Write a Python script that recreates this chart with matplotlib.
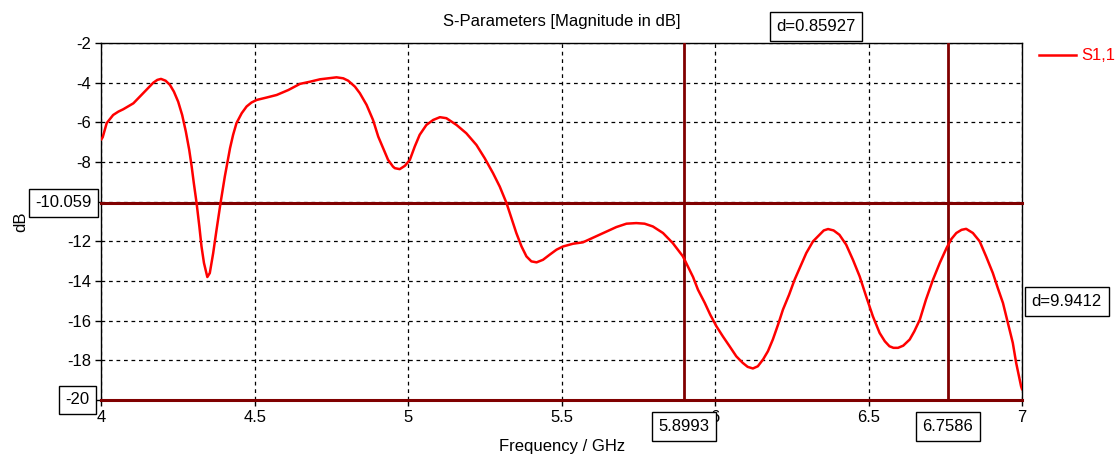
import matplotlib
matplotlib.use("Agg")
import matplotlib.pyplot as plt

# ----------------------------
# Data
# ----------------------------
freq = [4.0, 4.004, 4.017, 4.038, 4.055, 4.071, 4.104, 4.136, 4.152, 4.169,
        4.182, 4.194, 4.209, 4.223, 4.236, 4.25, 4.263, 4.275, 4.286, 4.294,
        4.301, 4.31, 4.319, 4.326, 4.334, 4.345, 4.353, 4.364, 4.375, 4.388,
        4.402, 4.419, 4.429, 4.44, 4.457, 4.473, 4.489, 4.506, 4.538, 4.571,
        4.609, 4.647, 4.68, 4.712, 4.739, 4.766, 4.788, 4.804, 4.826, 4.842,
        4.864, 4.885, 4.902, 4.918, 4.934, 4.95, 4.956, 4.972, 4.989, 5.005,
        5.021, 5.037, 5.059, 5.081, 5.103, 5.124, 5.157, 5.189, 5.222, 5.249,
        5.276, 5.298, 5.32, 5.336, 5.352, 5.369, 5.385, 5.401, 5.418, 5.439,
        5.461, 5.483, 5.504, 5.537, 5.569, 5.607, 5.646, 5.678, 5.711, 5.743,
        5.77, 5.797, 5.83, 5.862, 5.895, 5.911, 5.928, 5.944, 5.966, 5.984,
        6.004, 6.025, 6.047, 6.069, 6.09, 6.106, 6.123, 6.139, 6.156, 6.172,
        6.188, 6.205, 6.221, 6.241, 6.259, 6.278, 6.297, 6.319, 6.34, 6.354,
        6.368, 6.386, 6.405, 6.427, 6.449, 6.471, 6.492, 6.514, 6.536, 6.553,
        6.568, 6.581, 6.596, 6.613, 6.634, 6.649, 6.667, 6.687, 6.71, 6.732,
        6.754, 6.77, 6.786, 6.803, 6.818, 6.84, 6.862, 6.883, 6.905, 6.921,
        6.938, 6.954, 6.97, 6.981, 6.997, 7.0]
s11 = [-6.85, -6.75, -6.04, -5.63, -5.46, -5.34, -5.04, -4.53, -4.28, -4.0,
       -3.86, -3.81, -3.9, -4.11, -4.45, -4.96, -5.63, -6.47, -7.39, -8.23,
       -9.07, -10.07, -11.25, -12.26, -13.09, -13.8, -13.6, -12.6, -11.42, -10.07,
       -8.73, -7.3, -6.63, -6.04, -5.54, -5.2, -5.0, -4.87, -4.75, -4.62,
       -4.37, -4.06, -3.95, -3.83, -3.78, -3.73, -3.78, -3.9, -4.2, -4.53,
       -5.12, -5.88, -6.72, -7.3, -7.89, -8.23, -8.31, -8.36, -8.19, -7.89,
       -7.22, -6.63, -6.13, -5.88, -5.74, -5.79, -6.13, -6.55, -7.14, -7.81,
       -8.56, -9.24, -10.07, -10.83, -11.58, -12.26, -12.76, -13.01, -13.06, -12.93,
       -12.67, -12.42, -12.26, -12.12, -12.05, -11.78, -11.5, -11.28, -11.11, -11.08,
       -11.11, -11.25, -11.58, -12.09, -12.76, -13.26, -13.8, -14.44, -15.1, -15.7,
       -16.28, -16.79, -17.29, -17.8, -18.13, -18.33, -18.41, -18.3, -17.96, -17.54,
       -16.95, -16.2, -15.44, -14.69, -13.93, -13.26, -12.59, -12.0, -11.67, -11.45,
       -11.38, -11.45, -11.67, -12.17, -12.93, -13.77, -14.77, -15.78, -16.62, -17.04,
       -17.29, -17.37, -17.37, -17.26, -16.95, -16.54, -15.95, -14.94, -13.93, -13.09,
       -12.34, -11.88, -11.58, -11.42, -11.37, -11.58, -12.0, -12.76, -13.6, -14.35,
       -15.11, -16.11, -17.12, -18.13, -19.31, -19.45]

marker_x = [5.8993, 6.7586]
marker_y = [-10.059, -20.0]
x_ticks = [4, 4.5, 5, 5.5, 6, 6.5, 7]
x_labels = ["4", "4.5", "5", "5.5", "6", "6.5", "7"]
y_ticks = [-20, -18, -16, -14, -12, -10, -8, -6, -4, -2]
y_labels = ["", "-18", "-16", "-14", "-12", "", "-8", "-6", "-4", "-2"]

# ----------------------------
# Styling
# ----------------------------
plt.rcParams.update({"font.family": ["Liberation Sans", "DejaVu Sans"], "font.size": 12,
                     "axes.unicode_minus": False})
MARK = "#800000"
box = dict(boxstyle="square,pad=0.4", fc="white", ec="black", lw=1)

fig = plt.figure(figsize=(11.2, 4.68), dpi=100)
ax = fig.add_axes([0.0906, 0.1453, 0.8219, 0.7628])

ax.plot(freq, s11, color="red", linewidth=1.8, label="S1,1", zorder=4)

for xm in marker_x:
    ax.axvline(xm, color=MARK, linewidth=2, zorder=3)
for ym in marker_y:
    ax.axhline(ym, color=MARK, linewidth=2.2, zorder=3, clip_on=False)

ax.set_xlim(4, 7)
ax.set_ylim(-20, -2)
ax.set_xticks(x_ticks)
ax.set_xticklabels(x_labels)
ax.set_yticks(y_ticks)
ax.set_yticklabels(y_labels)
ax.grid(True, color="black", linestyle=(0, (3, 3)), linewidth=0.9)
ax.tick_params(direction="out", length=4, width=1, colors="black", labelsize=12)
for s in ax.spines.values():
    s.set_linewidth(1)
    s.set_color("black")

ax.set_xlabel("Frequency / GHz", fontsize=12, labelpad=10)
ax.set_ylabel("dB", fontsize=12, labelpad=28)
ax.set_title("S-Parameters [Magnitude in dB]", fontsize=12, pad=12)

# marker value boxes
xt = ax.get_xaxis_transform()
yt = ax.get_yaxis_transform()
for xm, txt in zip(marker_x, ["5.8993", "6.7586"]):
    ax.annotate(txt, xy=(xm, 0), xycoords=xt, xytext=(0, -19), textcoords="offset points",
                ha="center", va="center", bbox=box, zorder=6, annotation_clip=False)
ax.annotate("-10.059", xy=(0, marker_y[0]), xycoords=yt, xytext=(-7, 0),
            textcoords="offset points", ha="right", va="center", bbox=box, zorder=6,
            annotation_clip=False)
ax.annotate("-20", xy=(0, marker_y[1]), xycoords=yt, xytext=(-8.5, 0),
            textcoords="offset points", ha="right", va="center", bbox=box, zorder=6,
            annotation_clip=False)
ax.annotate("d=0.85927", xy=(sum(marker_x) / 2, 1.046), xycoords=xt, ha="center", va="center",
            bbox=box, zorder=6, annotation_clip=False)
ax.annotate("d=9.9412", xy=(1.0, sum(marker_y) / 2), xycoords=yt, xytext=(7, 0),
            textcoords="offset points", ha="left", va="center", bbox=box, zorder=6,
            annotation_clip=False)

ax.legend(loc="upper left", bbox_to_anchor=(1.0185, 0.985), frameon=False, borderpad=0,
          borderaxespad=0, handlelength=2.2, handletextpad=0.35, labelcolor="red", fontsize=12)

fig.savefig("out.png", dpi=100)
